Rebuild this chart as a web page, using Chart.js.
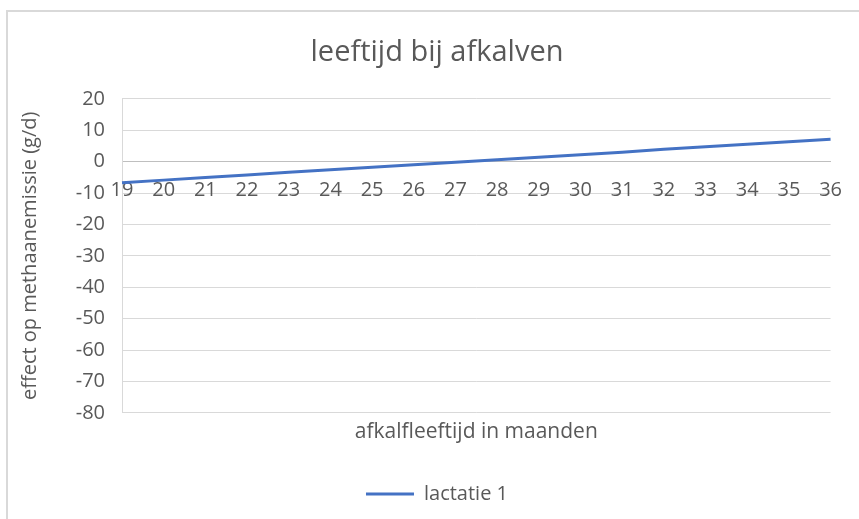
<!DOCTYPE html>
<html>
<head>
<meta charset="utf-8">
<script src="https://cdn.jsdelivr.net/npm/chart.js@4"></script>
<style>
  body { margin: 0; background: #fff; }
  #wrap { position: relative; width: 859px; height: 519px; overflow: hidden; }
  #frame { position: absolute; left: 6px; top: 10px; width: 900px; height: 600px;
           border-left: 2px solid #d9d9d9; border-top: 2px solid #d9d9d9; }
  #myChart { position: absolute; left: 0; top: 0; }
</style>
</head>
<body>
<div id="wrap">
  <div id="frame"></div>
  <canvas id="myChart" width="859" height="519"></canvas>
</div>
<script>
// afkalfleeftijd (maanden) en effect op methaanemissie (g/d)
const months = ['19', '20', '21', '22', '23', '24', '25', '26', '27', '28', '29', '30', '31', '32', '33', '34', '35', '36'];
const lactatie1 = [-6.7, -5.9, -5.1, -4.3, -3.4, -2.6, -1.8, -1.0, -0.2, 0.6, 1.4, 2.2, 3.0, 3.9, 4.7, 5.5, 6.3, 7.1];
const yMin = -80;
const yMax = 20;
const yStep = 10;

const textColor = '#595959';
const fontFamily = '"Open Sans", "Noto Sans", sans-serif';

const ctx = document.getElementById('myChart').getContext('2d');

new Chart(ctx, {
  type: 'line',
  data: {
    labels: months,
    datasets: [{
      label: 'lactatie 1',
      data: lactatie1,
      borderColor: '#4472c4',
      backgroundColor: '#4472c4',
      borderWidth: 3,
      pointRadius: 0,
      tension: 0
    }]
  },
  options: {
    responsive: false,
    animation: false,
    layout: { padding: { left: 15, right: 0, top: 0, bottom: 5 } },
    plugins: {
      title: {
        display: true,
        text: 'leeftijd bij afkalven',
        color: textColor,
        font: { family: fontFamily, size: 29, weight: 'normal' },
        padding: { top: 35, bottom: 29 }
      },
      legend: {
        position: 'bottom',
        labels: {
          color: textColor,
          font: { family: fontFamily, size: 20 },
          usePointStyle: true,
          pointStyle: 'line',
          pointStyleWidth: 48,
          boxHeight: 20,
          padding: 10
        }
      },
      tooltip: { enabled: false }
    },
    scales: {
      x: {
        type: 'category',
        offset: false,
        position: { y: 0 },
        grid: { display: false, drawTicks: false },
        border: { display: true, color: '#bfbfbf', width: 1 },
        ticks: {
          color: textColor,
          font: { family: fontFamily, size: 20 },
          padding: 17,
          maxRotation: 0,
          autoSkip: false
        }
      },
      xt: {
        type: 'category',
        axis: 'x',
        position: 'bottom',
        offset: false,
        grid: { display: false, drawTicks: false },
        border: { display: false },
        ticks: { display: false },
        title: {
          display: true,
          text: 'afkalfleeftijd in maanden',
          color: textColor,
          font: { family: fontFamily, size: 21 },
          padding: { top: 7, bottom: 29 }
        }
      },
      y: {
        min: yMin,
        max: yMax,
        ticks: {
          stepSize: yStep,
          color: textColor,
          font: { family: fontFamily, size: 20 },
          padding: 17
        },
        grid: { color: '#d9d9d9', lineWidth: 1, drawTicks: false },
        border: { display: true, color: '#d9d9d9' },
        title: {
          display: true,
          text: 'effect op methaanemissie (g/d)',
          color: textColor,
          font: { family: fontFamily, size: 20 },
          padding: { top: 3, bottom: 0 }
        },
        afterFit: function(scale) { scale.width = 107; }
      },
      yr: {
        type: 'linear',
        axis: 'y',
        position: 'right',
        min: yMin,
        max: yMax,
        grid: { display: false, drawTicks: false },
        border: { display: false },
        ticks: { display: false },
        afterFit: function(scale) { scale.width = 28; }
      }
    }
  }
});
</script>
</body>
</html>
